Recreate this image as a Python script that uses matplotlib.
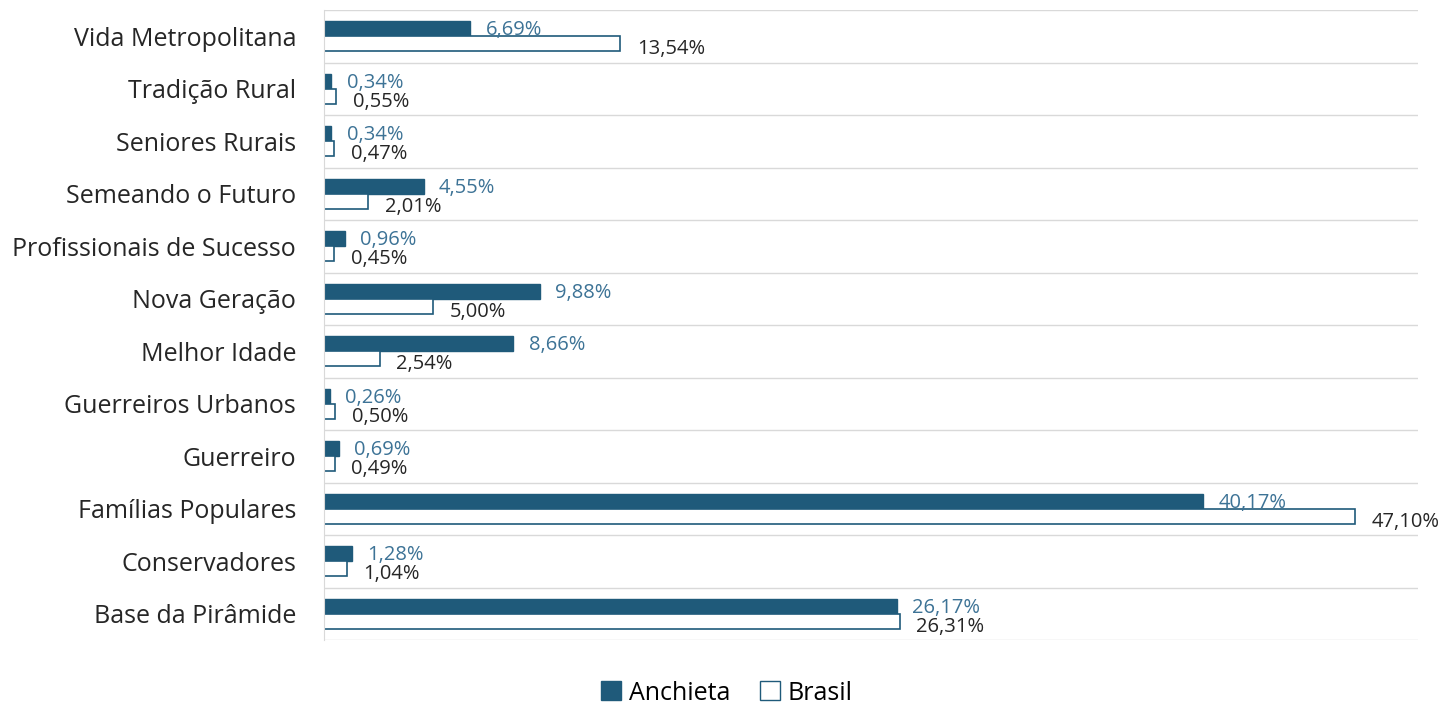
import matplotlib
matplotlib.use("Agg")
import matplotlib.pyplot as plt
import numpy as np
from matplotlib.patches import Patch

categories = ["Vida Metropolitana", "Tradição Rural", "Seniores Rurais", "Semeando o Futuro",
              "Profissionais de Sucesso", "Nova Geração", "Melhor Idade", "Guerreiros Urbanos",
              "Guerreiro", "Famílias Populares", "Conservadores", "Base da Pirâmide"]
anchieta = [6.69, 0.34, 0.34, 4.55, 0.96, 9.88, 8.66, 0.26, 0.69, 40.17, 1.28, 26.17]
brasil = [13.54, 0.55, 0.47, 2.01, 0.45, 5.00, 2.54, 0.50, 0.49, 47.10, 1.04, 26.31]
series_names = ["Anchieta", "Brasil"]

plt.rcParams['font.family'] = ['Open Sans', 'DejaVu Sans']
dark = "#1f5a7a"
lblue = "#3d7396"
fig = plt.figure(figsize=(14.43, 7.05), dpi=100)
ax = fig.add_axes([324/1443, 1-640/705, (1418-324)/1443, 630/705])

n = len(categories)
y = np.arange(n)[::-1].astype(float)
h = 0.29
ax.barh(y + h/2, anchieta, height=h, color=dark, edgecolor=dark, linewidth=1)
ax.barh(y - h/2, brasil, height=h, color="white", edgecolor=dark, linewidth=1.2)

for yi, a, b in zip(y, anchieta, brasil):
    ax.annotate(f"{a:.2f}%".replace(".", ","), (a, yi + h/2), xytext=(11, -1),
                textcoords="offset points", va="center", ha="left", fontsize=14.5, color=lblue)
    ax.annotate(f"{b:.2f}%".replace(".", ","), (b, yi - h/2), xytext=(12, -4),
                textcoords="offset points", va="center", ha="left", fontsize=14.5, color="#262626")

ax.set_xlim(0, 50)
ax.set_ylim(-0.5, n - 0.5)
ax.set_yticks(y)
ax.set_yticklabels(categories, fontsize=18, color="#262626")
ax.tick_params(axis="y", length=0, pad=20)
ax.set_xticks([])
for yy in np.arange(-0.5, n, 1.0):
    ax.axhline(yy, color="#d9d9d9", linewidth=1, zorder=0)
for s in ["top", "right", "bottom"]:
    ax.spines[s].set_visible(False)
ax.spines["left"].set_color("#d9d9d9")

handles = [Patch(facecolor=dark, edgecolor=dark), Patch(facecolor="white", edgecolor=dark)]
fig.legend(handles, series_names, loc="center", bbox_to_anchor=(727/1443, 1-693/705), ncol=2,
           frameon=False, fontsize=18, handlelength=0.8, handleheight=0.8, handletextpad=0.3,
           columnspacing=1.2)

fig.savefig("out.png", dpi=100)
